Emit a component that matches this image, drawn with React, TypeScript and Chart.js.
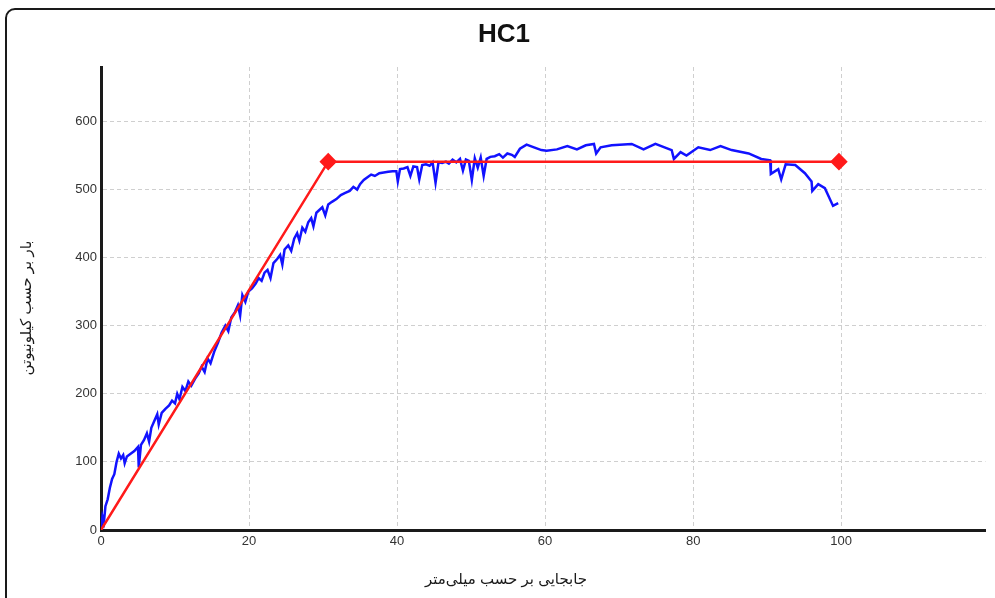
import React, { useEffect, useRef } from "react";
import { Chart, registerables } from "chart.js";

Chart.register(...registerables);

const chartTitle = "HC1";
const xAxisTitle = "جابجایی بر حسب میلی‌متر";
const yAxisTitle = "بار بر حسب کیلونیوتن";

const testDisp = [
  0, 0.2, 0.4, 0.6, 0.9, 1.2, 1.5, 1.8, 2.1, 2.4, 2.7, 3.0, 3.2, 3.5, 4.0, 4.5, 5.0, 5.1, 5.4, 5.8,
  6.2, 6.5, 6.8, 7.2, 7.6, 7.8, 8.2, 8.7, 9.2, 9.6, 10.0, 10.3, 10.6, 11.0, 11.4, 11.8, 12.2, 12.7, 13.2, 13.6,
  14.0, 14.4, 14.8, 15.3, 15.8, 16.3, 16.8, 17.2, 17.6, 18.1, 18.5, 18.8, 19.1, 19.5, 19.9, 20.4, 20.9, 21.3, 21.7, 22.1,
  22.5, 22.9, 23.3, 23.8, 24.2, 24.5, 24.8, 25.3, 25.7, 26.1, 26.5, 26.8, 27.2, 27.6, 28.0, 28.4, 28.7, 29.1, 29.5, 29.9,
  30.3, 30.7, 31.2, 31.8, 32.4, 33.0, 33.6, 34.1, 34.6, 35.0, 35.5, 36.0, 36.5, 37.0, 37.6, 38.2, 38.8, 39.4, 39.9, 40.1,
  40.4, 40.9, 41.4, 41.8, 42.2, 42.7, 43.0, 43.4, 43.9, 44.4, 44.8, 45.2, 45.6, 46.1, 46.6, 47.0, 47.5, 48.0, 48.5, 48.9,
  49.3, 49.7, 50.1, 50.5, 50.9, 51.3, 51.7, 52.1, 52.6, 53.2, 53.8, 54.3, 54.9, 55.5, 55.9, 56.6, 57.5, 58.5, 59.5, 60.2,
  61.6, 63.0, 64.3, 65.5, 66.6, 66.9, 67.5, 69.0, 71.7, 73.3, 74.9, 77.1, 77.4, 78.3, 79.1, 80.7, 82.3, 83.7, 85.2, 87.5,
  89.2, 90.4, 90.5, 91.5, 91.9, 92.5, 93.8, 95.1, 96.0, 96.1, 96.9, 97.8, 98.9, 99.6,
];

const testLoad = [
  0, 20, 12, 35, 45, 62, 75, 82, 100, 112, 105, 110, 98, 108, 112, 116, 122, 92, 125, 132,
  142, 130, 150, 160, 170, 155, 172, 178, 183, 190, 186, 200, 192, 210, 204, 218, 212, 222, 230, 240,
  232, 252, 245, 262, 275, 290, 300, 292, 312, 320, 330, 315, 345, 335, 350, 355, 362, 370, 366, 378,
  382, 370, 392, 398, 404, 390, 412, 418, 410, 428, 436, 425, 444, 438, 452, 458, 446, 466, 470, 474,
  462, 478, 482, 486, 492, 495, 498, 504, 500, 508, 514, 518, 522, 520, 524, 525, 526, 527, 527, 512,
  530, 531, 533, 520, 534, 533, 515, 536, 537, 535, 540, 510, 540, 539, 541, 538, 544, 540, 545, 528,
  544, 542, 514, 546, 532, 547, 520, 545, 548, 549, 552, 547, 553, 551, 548, 560, 566, 562, 558, 557,
  559, 564, 559, 565, 567, 553, 562, 565, 567, 559, 567, 558, 545, 555, 550, 562, 558, 564, 558, 553,
  545, 543, 523, 530, 515, 537, 536, 524, 512, 498, 508, 502, 476, 480,
];

const modelDisp = [0, 30.7, 99.7];
const modelLoad = [0, 541, 541];

const yTicks = [0, 100, 200, 300, 400, 500, 600];
const xTicks = [0, 20, 40, 60, 80, 100];

export default function App() {
  const ref = useRef<HTMLCanvasElement | null>(null);

  useEffect(() => {
    const canvas = ref.current;
    if (!canvas) return;

    const textPlugin = {
      id: "textPlugin",
      afterDraw(chart: any) {
        const ctx = chart.ctx;
        ctx.save();
        ctx.fillStyle = "#111";
        ctx.textAlign = "center";
        ctx.textBaseline = "middle";
        ctx.font = "bold 26px Arial, 'Liberation Sans', sans-serif";
        ctx.fillText(chartTitle, 504, 35);
        ctx.fillStyle = "#1a1a1a";
        ctx.font = "15px Arial, 'Liberation Sans', 'DejaVu Sans', sans-serif";
        ctx.fillText(xAxisTitle, 506, 580);
        ctx.translate(27, 308);
        ctx.rotate(-Math.PI / 2);
        ctx.fillText(yAxisTitle, 0, 0);
        ctx.restore();
      },
    };

    const chart = new Chart(canvas, {
      type: "scatter",
      data: {
        datasets: [
          {
            label: "model",
            data: modelDisp.map((x, i) => ({ x, y: modelLoad[i] })),
            showLine: true,
            borderColor: "#ff1a1a",
            backgroundColor: "#ff1a1a",
            borderWidth: 2.5,
            pointStyle: "rectRot",
            pointRadius: [0, 7, 7],
            pointHoverRadius: [0, 7, 7],
            order: 0,
          },
          {
            label: "test",
            data: testDisp.map((x, i) => ({ x, y: testLoad[i] })),
            showLine: true,
            borderColor: "#1212ff",
            backgroundColor: "#1212ff",
            borderWidth: 2.5,
            pointRadius: 0,
            order: 1,
          },
        ],
      },
      options: {
        responsive: false,
        animation: false,
        devicePixelRatio: 1,
        layout: { padding: { left: 0, right: 7, top: 67, bottom: 0 } },
        plugins: {
          legend: { display: false },
          tooltip: { enabled: false },
          title: { display: false },
        },
        scales: {
          x: {
            type: "linear",
            min: 0,
            max: 119.5,
            afterFit(scale: any) {
              scale.height = 68;
            },
            afterBuildTicks(scale: any) {
              scale.ticks = xTicks.map((v) => ({ value: v }));
            },
            ticks: {
              color: "#333",
              font: { family: "Arial, 'Liberation Sans', sans-serif", size: 13 },
              padding: 4,
              maxRotation: 0,
            },
            grid: {
              color: (c: any) => (c.tick && c.tick.value === 0 ? "rgba(0,0,0,0)" : "#cfcfcf"),
              drawTicks: false,
            },
            border: { display: true, color: "#1a1a1a", width: 3, dash: [4, 3] },
          },
          y: {
            type: "linear",
            min: 0,
            max: 680,
            afterFit(scale: any) {
              scale.width = 101;
            },
            afterBuildTicks(scale: any) {
              scale.ticks = yTicks.map((v) => ({ value: v }));
            },
            ticks: {
              color: "#333",
              font: { family: "Arial, 'Liberation Sans', sans-serif", size: 13 },
              padding: 4,
            },
            grid: {
              color: (c: any) => (c.tick && c.tick.value === 0 ? "rgba(0,0,0,0)" : "#cfcfcf"),
              drawTicks: false,
            },
            border: { display: true, color: "#1a1a1a", width: 3, dash: [4, 3] },
          },
        },
      },
      plugins: [textPlugin],
    } as any);

    return () => chart.destroy();
  }, []);

  return (
    <div
      style={{
        position: "fixed",
        left: 0,
        top: 0,
        width: 995,
        height: 598,
        overflow: "hidden",
        background: "#fff",
      }}
    >
      <div
        style={{
          position: "absolute",
          left: 5,
          top: 8,
          width: 1100,
          height: 700,
          border: "2px solid #1a1a1a",
          borderRadius: 10,
          boxSizing: "border-box",
        }}
      />
      <canvas
        ref={ref}
        width={995}
        height={598}
        style={{ position: "absolute", left: 0, top: 0, width: 995, height: 598 }}
      />
    </div>
  );
}
